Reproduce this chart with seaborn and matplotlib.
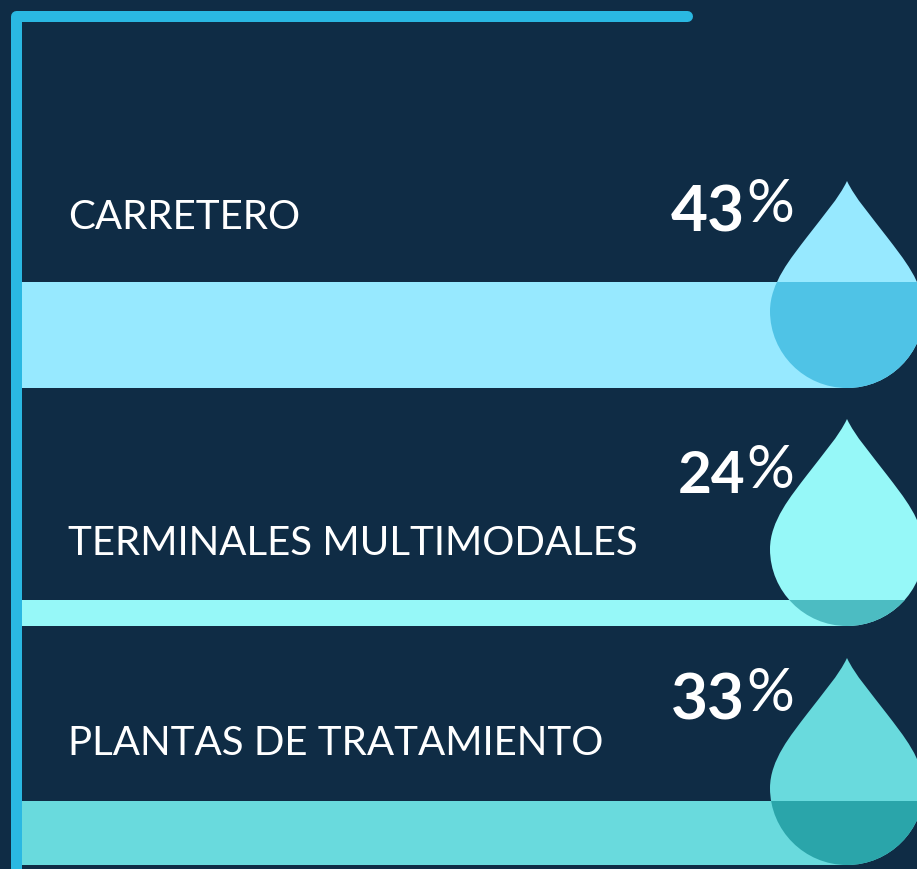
import matplotlib
matplotlib.use("Agg")
import matplotlib.pyplot as plt
import seaborn as sns
from matplotlib.lines import Line2D
from matplotlib.patches import PathPatch
from matplotlib.path import Path
from matplotlib.transforms import Affine2D

categories = ["CARRETERO", "TERMINALES MULTIMODALES", "PLANTAS DE TRATAMIENTO"]
values = [43, 24, 33]
bar_colors = ["#97e9ff", "#96f8f8", "#69dadd"]
dark_colors = ["#4fc3e6", "#4cbcc2", "#2aa5aa"]

W, H = 917, 869
BG = "#0f2c45"
FRAME = "#2ab8e2"

# scale of the drops, same for every row
y_min, y_max = 17.82, 66.99

# layout in pixels from top left
row_bottoms = [388, 626, 865]
label_baselines = [229, 555, 755]
num_baselines = [231, 493, 720]
num_sizes = [46, 42, 46]
pct_baselines = [222, 488, 711]
drop_h = 207
drop_x = 847

sns.set_theme(style="white")
plt.rcParams['font.family'] = ['Lato', 'DejaVu Sans']

fig = plt.figure(figsize=(W / 100, H / 100), dpi=100, facecolor=BG)


def fx(x):
    return x / W


def fy(y):
    return 1 - y / H


drop_path = Path(
    [(0, 207), (-8, 190), (-24, 172), (-40, 151), (-56, 130), (-77, 105), (-77, 77),
     (-77, 34.5), (-42.5, 0), (0, 0), (42.5, 0), (77, 34.5), (77, 77),
     (77, 105), (56, 130), (40, 151), (24, 172), (8, 190), (0, 207), (0, 207)],
    [Path.MOVETO] + [Path.CURVE4] * 18 + [Path.CLOSEPOLY],
)

for i in range(3):
    bottom = row_bottoms[i]
    ax = fig.add_axes([fx(22), fy(bottom), fx(W - 22), drop_h / H])
    sns.barplot(x=[categories[i]], y=[values[i]], color=bar_colors[i], saturation=1,
                width=1, errorbar=None, linewidth=0, ax=ax, zorder=1)
    sns.barplot(x=[categories[i]], y=[values[i]], color=dark_colors[i], saturation=1,
                width=1, errorbar=None, linewidth=0, ax=ax, zorder=3)
    ax.set_xlim(-0.5, 0.5)
    ax.set_ylim(y_min, y_max)
    ax.axis("off")

    # light bar stops under the middle of the drop
    ax.patches[0].set_width((drop_x - 22) / (W - 22))

    px_tr = Affine2D().translate(drop_x, H - bottom).scale(1 / W, 1 / H) + fig.transFigure
    drop = PathPatch(drop_path, facecolor=bar_colors[i], edgecolor="none", transform=px_tr,
                     zorder=2, clip_on=False)
    ax.add_patch(drop)
    ax.patches[1].set_clip_path(drop)

    fig.text(fx(68), fy(label_baselines[i]), categories[i], color="white", fontsize=29,
             ha="left", va="baseline")
    fig.text(fx(745), fy(num_baselines[i]), str(values[i]), color="white", fontsize=num_sizes[i],
             fontweight="bold", ha="right", va="baseline")
    fig.text(fx(746), fy(pct_baselines[i]), "%", color="white", fontsize=43,
             ha="left", va="baseline")

frame = Line2D([fx(16), fx(16), fx(687)], [0, fy(16), fy(16)], color=FRAME,
               linewidth=11 * 0.72, solid_capstyle="round", solid_joinstyle="round",
               transform=fig.transFigure)
fig.add_artist(frame)

fig.savefig("out.png", dpi=100, facecolor=BG)
